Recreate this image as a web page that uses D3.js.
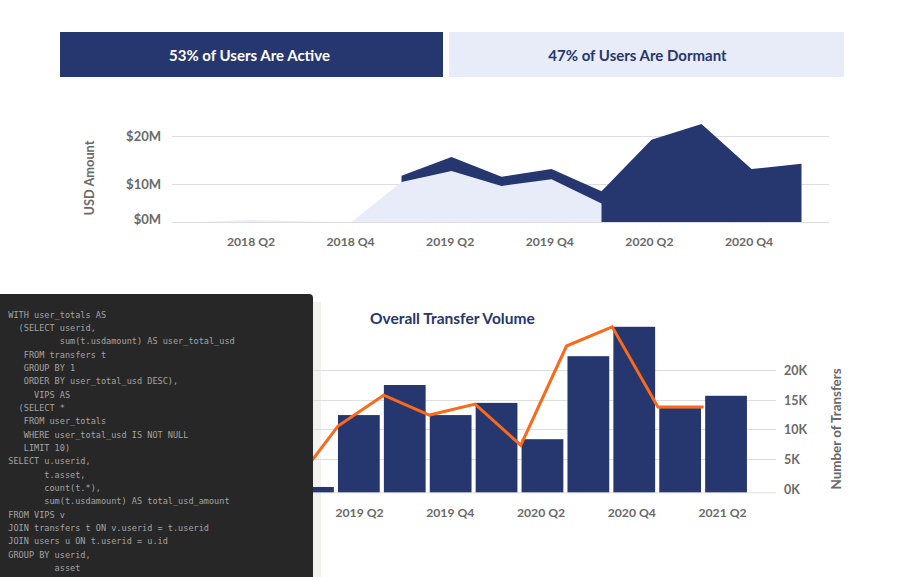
<!DOCTYPE html>
<html>
<head>
<meta charset="utf-8">
<script src="https://cdn.jsdelivr.net/npm/d3@7"></script>
<style>
  html, body { margin: 0; padding: 0; background: #fff; }
  svg { display: block; }
  text { font-family: Lato, "Noto Sans", sans-serif; }
  .tick text, .axis-label { fill: #696969; font-weight: 700; }
  .code { font-family: "DejaVu Sans Mono", monospace; font-size: 8.55px; fill: #a4a4a4; white-space: pre; }
</style>
</head>
<body>
<svg id="vis" width="904" height="577"></svg>
<script>
const bannerLabels = ["53% of Users Are Active", "47% of Users Are Dormant"];

// top chart, USD amount per quarter (in millions)
const areaQuarters = ["2018 Q1", "2018 Q2", "2018 Q3", "2018 Q4", "2019 Q1", "2019 Q2", "2019 Q3",
  "2019 Q4", "2020 Q1", "2020 Q2", "2020 Q3", "2020 Q4", "2021 Q1"];
const areaTicks = ["2018 Q2", "2018 Q4", "2019 Q2", "2019 Q4", "2020 Q2", "2020 Q4"];
const activeUsd = [null, null, null, null, 11.7, 15.6, 11.5, 13.1, 8.1, 19.2, 22.5, 13.1, 14.2];
const dormantUsd = [0, 0.5, 0.2, 0, 10.4, 12.7, 9.5, 11, 4.9, null, null, null, null];
const usdTicks = [0, 10, 20];

// bottom chart, transfers per quarter (in thousands)
const barQuarters = ["2019 Q1", "2019 Q2", "2019 Q3", "2019 Q4", "2020 Q1", "2020 Q2", "2020 Q3",
  "2020 Q4", "2021 Q1", "2021 Q2"];
const barTicks = ["2019 Q2", "2019 Q4", "2020 Q2", "2020 Q4", "2021 Q2"];
const volumeBars = [0.8, 12.4, 17.5, 12.4, 14.5, 8.3, 22.3, 27.2, 13.6, 15.7];
const transferLine = [0.9, 10.5, 15.8, 12.4, 14.3, 7.3, 24, 27.2, 13.8, 13.8];
const transferTicks = [0, 5, 10, 15, 20];

const codeLines = [
  "WITH user_totals AS",
  "  (SELECT userid,",
  "          sum(t.usdamount) AS user_total_usd",
  "   FROM transfers t",
  "   GROUP BY 1",
  "   ORDER BY user_total_usd DESC),",
  "     VIPS AS",
  "  (SELECT *",
  "   FROM user_totals",
  "   WHERE user_total_usd IS NOT NULL",
  "   LIMIT 10)",
  "SELECT u.userid,",
  "       t.asset,",
  "       count(t.*),",
  "       sum(t.usdamount) AS total_usd_amount",
  "FROM VIPS v",
  "JOIN transfers t ON v.userid = t.userid",
  "JOIN users u ON t.userid = u.id",
  "GROUP BY userid,",
  "         asset"
];

const navy = "#26366f", pale = "#e8ecf9", orange = "#fb6a1a", grid = "#dedede";
const svg = d3.select("#vis");

// banners
const banners = svg.append("g");
[[60, 383, navy, "#fff"], [449, 395, pale, navy]].forEach((b, i) => {
  banners.append("rect").attr("x", b[0]).attr("y", 32).attr("width", b[1]).attr("height", 45).attr("fill", b[2]);
  banners.append("text")
    .attr("x", b[0] + b[1] / 2 - (i ? 9 : 2))
    .attr("y", 60.5)
    .attr("text-anchor", "middle")
    .attr("font-size", 15)
    .attr("font-weight", 700)
    .attr("fill", b[3])
    .text(bannerLabels[i]);
});

// top area chart, the y axis of the source is not linear so it is piecewise here
const xTop = d3.scalePoint().domain(areaQuarters).range([201.5, 801.5]);
const xTopLabels = d3.scalePoint().domain(areaTicks).range([250.5, 748.5]);
const yTop = d3.scaleLinear().domain([0, 10, 20, 30]).range([222, 184, 136, 88]);

const topGrid = svg.append("g")
  .attr("transform", "translate(172,0)")
  .call(d3.axisLeft(yTop).tickValues(usdTicks).tickSize(-657).tickFormat(d => `$${d}M`));
topGrid.select(".domain").remove();
topGrid.selectAll("line").attr("stroke", grid);
topGrid.selectAll("text")
  .attr("x", -11)
  .attr("y", d => d === 0 ? -3 : 0)
  .attr("font-size", 13);

const topArea = d3.area()
  .defined(d => d.v !== null)
  .x(d => xTop(d.q))
  .y0(yTop(0))
  .y1(d => yTop(d.v));

svg.append("path")
  .datum(areaQuarters.map((q, i) => ({ q, v: activeUsd[i] })))
  .attr("fill", navy)
  .attr("d", topArea);
svg.append("path")
  .datum(areaQuarters.map((q, i) => ({ q, v: dormantUsd[i] })))
  .attr("fill", pale)
  .attr("d", topArea);

const topAxis = svg.append("g")
  .attr("transform", "translate(0,221.5)")
  .call(d3.axisBottom(xTopLabels).tickSize(0).tickPadding(16));
topAxis.select(".domain").remove();
topAxis.selectAll("text").attr("font-size", 12.2);

svg.append("text")
  .attr("class", "axis-label")
  .attr("transform", "translate(94,178) rotate(-90)")
  .attr("text-anchor", "middle")
  .attr("font-size", 12.8)
  .text("USD Amount");

// bottom bar + line chart
svg.append("rect").attr("x", 313).attr("y", 302).attr("width", 8).attr("height", 275).attr("fill", "#f1f1f0");

const xBar = d3.scaleBand().domain(barQuarters).range([290, 749]).paddingInner(0.09).paddingOuter(0.045);
// the line sits about 20px left of the bars in the source
const xLine = d3.scalePoint().domain(barQuarters).range([292.3, 703.6]);
const xBarLabels = d3.scalePoint().domain(barTicks).range([359, 722]);
const yBar = d3.scaleLinear().domain([0, 5, 10, 15, 20, 30]).range([492.3, 459, 429, 400, 370, 310]);

svg.append("text")
  .attr("x", 370)
  .attr("y", 324)
  .attr("font-size", 15.5)
  .attr("font-weight", 700)
  .attr("fill", navy)
  .text("Overall Transfer Volume");

const botGrid = svg.append("g")
  .attr("transform", "translate(776,0)")
  .call(d3.axisRight(yBar).tickValues(transferTicks).tickSize(-500).tickFormat(d => `${d}K`));
botGrid.select(".domain").remove();
botGrid.selectAll("line").attr("stroke", grid);
botGrid.selectAll("text")
  .attr("x", 8)
  .attr("y", d => d === 0 ? -3 : 0)
  .attr("font-size", 12.5);

svg.append("g")
  .selectAll("rect")
  .data(barQuarters)
  .enter()
  .append("rect")
  .attr("x", d => xBar(d))
  .attr("y", (d, i) => yBar(volumeBars[i]))
  .attr("width", xBar.bandwidth())
  .attr("height", (d, i) => yBar(0) - yBar(volumeBars[i]))
  .attr("fill", navy);

svg.append("path")
  .datum(barQuarters)
  .attr("fill", "none")
  .attr("stroke", orange)
  .attr("stroke-width", 3)
  .attr("d", d3.line().x(d => xLine(d)).y((d, i) => yBar(transferLine[i])));

const botAxis = svg.append("g")
  .attr("transform", "translate(0,492.3)")
  .call(d3.axisBottom(xBarLabels).tickSize(0).tickPadding(16));
botAxis.select(".domain").remove();
botAxis.selectAll("text").attr("font-size", 12.2);

svg.append("text")
  .attr("class", "axis-label")
  .attr("transform", "translate(841,429) rotate(-90)")
  .attr("text-anchor", "middle")
  .attr("font-size", 13.4)
  .text("Number of Transfers");

// code panel on top of the left part of the bottom chart
svg.append("rect").attr("x", -6).attr("y", 294).attr("width", 319).attr("height", 300).attr("rx", 4).attr("fill", "#272727");
svg.append("g")
  .selectAll("text")
  .data(codeLines)
  .enter()
  .append("text")
  .attr("class", "code")
  .attr("x", 8.3)
  .attr("y", (d, i) => 317.5 + i * 13.35)
  .text(d => d);
</script>
</body>
</html>
